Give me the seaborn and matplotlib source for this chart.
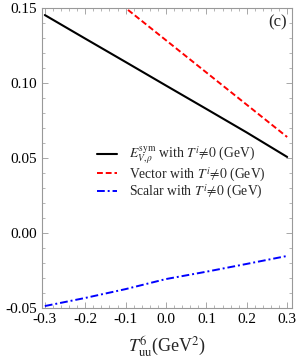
import numpy as np
import pandas as pd
import matplotlib
matplotlib.use("Agg")
import matplotlib.pyplot as plt
from matplotlib.ticker import MultipleLocator, FormatStrFormatter
import seaborn as sns

# Data (T^6_uu in GeV^2)
t6 = [-0.3, -0.2, -0.1, 0.0, 0.1, 0.2, 0.3]
e_sym = [0.1453, 0.1296, 0.1140, 0.0983, 0.0827, 0.0670, 0.0507]
vector = [0.193, 0.1715, 0.150, 0.1285, 0.107, 0.0855, 0.064]
scalar = [-0.0487, -0.0433, -0.0374, -0.0307, -0.0258, -0.0206, -0.0153]

labels = [r"$E^{\rm sym}_{V,\rho}$ with $T^i\!\neq\!0$ (GeV)",
          r"Vector with $T^i\!\neq\!0$ (GeV)",
          r"Scalar with $T^i\!\neq\!0$ (GeV)"]

sns.set_style("ticks")
plt.rcParams['font.family'] = ['Liberation Serif', 'DejaVu Serif']
plt.rcParams['mathtext.fontset'] = 'stix'

fig = plt.figure(figsize=(2.97, 3.6), dpi=100)
ax = fig.add_axes([42 / 297, 1 - 308 / 360, 250 / 297, 300 / 360])

df = pd.DataFrame({"x": t6, "e": e_sym, "v": vector, "s": scalar})
sns.lineplot(data=df, x="x", y="e", ax=ax, color="black", lw=1.5, label=labels[0])
sns.lineplot(data=df, x="x", y="v", ax=ax, color="red", lw=1.4, ls=(0, (3, 1.5)), label=labels[1])
sns.lineplot(data=df, x="x", y="s", ax=ax, color="blue", lw=1.4, ls=(0, (4, 1.5, 1, 1.5)), label=labels[2])

ax.set_xlim(-0.307, 0.312)
ax.set_ylim(-0.05, 0.15)
ax.xaxis.set_major_locator(MultipleLocator(0.1))
ax.xaxis.set_minor_locator(MultipleLocator(0.02))
ax.yaxis.set_major_locator(MultipleLocator(0.05))
ax.yaxis.set_minor_locator(MultipleLocator(0.01))
ax.xaxis.set_major_formatter(FormatStrFormatter("%.1f"))
ax.yaxis.set_major_formatter(FormatStrFormatter("%.2f"))
ax.tick_params(which="both", direction="in", top=True, right=True, color="#999999",
               labelsize=11, labelcolor="black")
ax.tick_params(which="major", length=4, width=0.6)
ax.tick_params(which="minor", length=2, width=0.5)
for s in ax.spines.values():
    s.set_color("#999999")
    s.set_linewidth(0.8)

ax.set_xlabel(r"$T^{6}_{\rm uu}$(GeV$^2$)", fontsize=13, labelpad=6)
ax.set_ylabel("")
ax.text(0.944, 0.953, "(c)", transform=ax.transAxes, ha="center", va="center", fontsize=12)

ax.legend(loc="center left", bbox_to_anchor=(0.22, 0.45), frameon=False, fontsize=9.8,
          handlelength=1.5, handletextpad=0.85, labelspacing=-0.1, borderpad=0, borderaxespad=0)

fig.savefig("out.png", dpi=100)
